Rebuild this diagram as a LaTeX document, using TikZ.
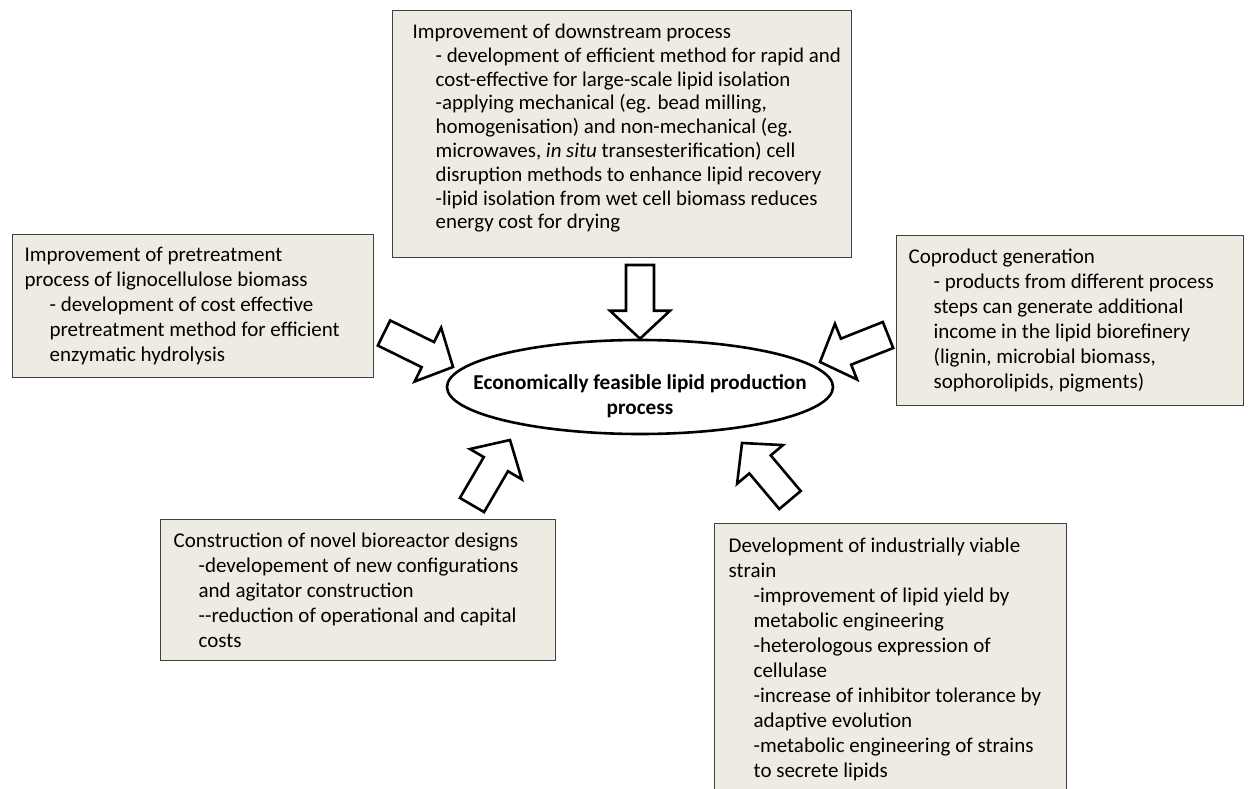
\documentclass[tikz,border=0pt]{standalone}
\usepackage{fontspec}
\setmainfont{Carlito}
\usepackage{tikz}
\usetikzlibrary{shapes,calc,positioning}

\definecolor{boxbg}{RGB}{238,236,226}
\definecolor{boxline}{RGB}{64,64,64}

\newcommand{\ind}{\hspace*{25pt}}
\newcommand{\pad}[1]{\leftskip=#1\relax}
% block arrow from tail #1 to tip #2
\newcommand{\fatarrow}[2]{%
  \coordinate (neck) at ($(#2)!28pt!(#1)$);
  \draw [fat] ($(#1)!14pt!90:(#2)$) -- ($(neck)!14pt!90:(#2)$)
    -- ($(neck)!30pt!90:(#2)$) -- (#2) -- ($(neck)!30pt!-90:(#2)$)
    -- ($(neck)!14pt!-90:(#2)$) -- ($(#1)!14pt!-90:(#2)$) -- cycle;}

\begin{document}
\begin{tikzpicture}[x=1pt, y=-1pt,
  every node/.style={font=\fontsize{21}{25}\selectfont},
  tbox/.style={rectangle, draw=boxline, line width=1.3pt, fill=boxbg,
               anchor=north west, align=flush left, inner xsep=0pt, inner ysep=0pt},
  target/.style={ellipse, draw, line width=2.6pt, fill=white,
               minimum width=386pt, minimum height=94pt},
  bold/.style={align=center, inner sep=0pt, font=\fontsize{21.2}{25}\selectfont\bfseries},
  fat/.style={draw, line width=2.6pt, fill=white, line join=miter}]

\clip (0,0) rectangle (1254,789);

\node (down) [tbox, text width=459pt, minimum height=247pt,
  font=\fontsize{20.9}{23.8}\selectfont] at (392,10)
  {\pad{20pt}Improvement of downstream process\\
   \hspace*{23pt}- development of efficient method for rapid and\\
   \hspace*{23pt}cost-effective for large-scale lipid isolation\\
   \hspace*{23pt}-applying mechanical (eg. bead milling,\\
   \hspace*{23pt}homogenisation) and non-mechanical (eg.\\
   \hspace*{23pt}microwaves, \textit{in situ} transesterification) cell\\
   \hspace*{23pt}disruption methods to enhance lipid recovery\\
   \hspace*{23pt}-lipid isolation from wet cell biomass reduces\\
   \hspace*{23pt}energy cost for drying\par\kern12pt};

\node (pre) [tbox, text width=361pt, minimum height=143pt] at (12,234)
  {\pad{12pt}Improvement of pretreatment\\
   process of lignocellulose biomass\\
   \ind - development of cost effective\\
   \ind pretreatment method for efficient\\
   \ind enzymatic hydrolysis\par};

\node (copro) [tbox, text width=347pt, minimum height=170pt] at (896,235)
  {\pad{12pt}Coproduct generation\\
   \ind - products from different process\\
   \ind steps can generate additional\\
   \ind income in the lipid biorefinery\\
   \ind (lignin, microbial biomass,\\
   \ind sophorolipids, pigments)\par};

\node (reac) [tbox, text width=395pt, minimum height=141pt] at (160,519)
  {\pad{13pt}Construction of novel bioreactor designs\\
   \ind -developement of new configurations\\
   \ind and agitator construction\\
   \ind {-}{-}reduction of operational and capital\\
   \ind costs\par};

\node (strain) [tbox, text width=352pt, inner ysep=14pt] at (714,523)
  {\pad{14pt}Development of industrially viable\\
   strain\\
   \ind -improvement of lipid yield by\\
   \ind metabolic engineering\\
   \ind -heterologous expression of\\
   \ind cellulase\\
   \ind -increase of inhibitor tolerance by\\
   \ind adaptive evolution\\
   \ind -metabolic engineering of strains\\
   \ind to secrete lipids\par};

\node (lip) [target] at (640,387) {};
\node (liptext) [bold, yshift=-9pt] at (lip.center) {Economically feasible lipid production\\ process};

\coordinate (dtail) at (640,265);
\coordinate (ptail) at (384,333);
\coordinate (ptip) at (453,367);
\coordinate (ctail) at (888,335);
\coordinate (ctip) at (820,362);
\coordinate (rtail) at (472,505);
\coordinate (rtip) at (510,440);
\coordinate (stail) at (790,500);
\coordinate (stip) at (742,443);

\fatarrow{dtail}{lip.north}
\fatarrow{ptail}{ptip}
\fatarrow{ctail}{ctip}
\fatarrow{rtail}{rtip}
\fatarrow{stail}{stip}

\end{tikzpicture}
\end{document}
